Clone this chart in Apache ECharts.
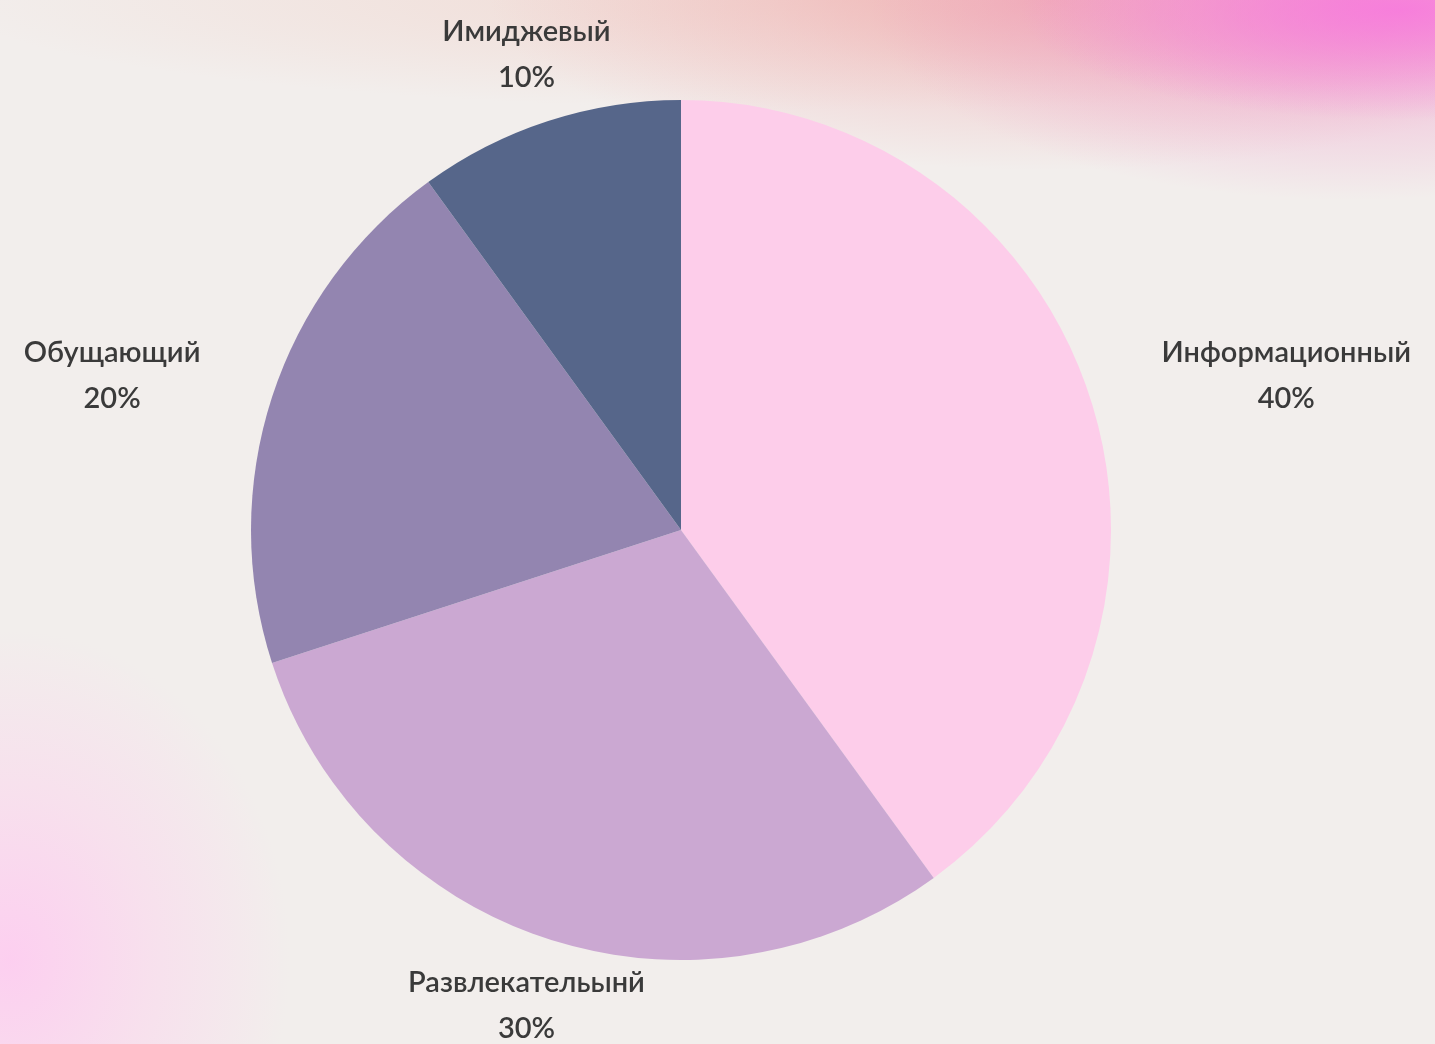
<!DOCTYPE html>
<html>
<head>
<meta charset="utf-8">
<script src="https://cdn.jsdelivr.net/npm/echarts@6/dist/echarts.min.js"></script>
<style>
html,body{margin:0;padding:0;width:1435px;height:1044px;overflow:hidden;}
body{
  background-color:#f2eeec;
  background-image:
    radial-gradient(ellipse 380px 110px at 1400px 10px, rgba(248,120,222,0.85) 0%, rgba(248,120,222,0.4) 50%, rgba(248,120,222,0) 100%),
    radial-gradient(ellipse 480px 200px at 1350px 0px, rgba(240,140,200,0.75) 0%, rgba(240,150,200,0.35) 55%, rgba(240,150,200,0) 100%),
    radial-gradient(ellipse 560px 170px at 1050px 0px, rgba(240,165,170,0.75) 0%, rgba(240,170,175,0.35) 50%, rgba(240,170,175,0) 100%),
    radial-gradient(ellipse 900px 110px at 850px 0px, rgba(240,200,190,0.55) 0%, rgba(240,200,190,0) 100%),
    radial-gradient(ellipse 280px 330px at 10px 960px, rgba(253,205,240,0.95) 0%, rgba(253,210,238,0.5) 50%, rgba(253,210,238,0) 100%);
}
#chart{width:1435px;height:1044px;}
</style>
</head>
<body>
<div id="chart"></div>
<script>
var categories = ['Информационный', 'Развлекательынй', 'Обущающий', 'Имиджевый'];
var values = [40, 30, 20, 10];
var colors = ['#fdcdea', '#cba8d2', '#9385b0', '#56668a'];

var chart = echarts.init(document.getElementById('chart'), null, {renderer: 'canvas'});
var data = categories.map(function (c, i) {
  return { name: c, value: values[i], itemStyle: { color: colors[i] } };
});

chart.setOption({
  backgroundColor: 'transparent',
  animation: false,
  series: [{
    type: 'pie',
    center: [681, 530],
    radius: 430,
    startAngle: 90,
    clockwise: true,
    avoidLabelOverlap: false,
    data: data,
    itemStyle: { borderWidth: 0 },
    label: {
      show: true,
      position: 'outside',
      formatter: '{b}\n{c}%',
      fontFamily: 'Lato',
      fontSize: 29,
      fontWeight: 600,
      lineHeight: 46,
      color: '#3a3a3a'
    },
    labelLine: {
      show: true,
      length: 70,
      length2: 0,
      lineStyle: { opacity: 0, width: 0 }
    },
    emphasis: { disabled: true },
    labelLayout: function (p) {
      var pts = p.labelLinePoints;
      var r = p.labelRect;
      if (!pts) {
        return { x: r.x + r.width / 2, y: r.y + r.height / 2, align: 'center', verticalAlign: 'middle' };
      }
      var dx = pts[1][0] - pts[0][0], dy = pts[1][1] - pts[0][1];
      if (Math.abs(dy) > Math.abs(dx)) {
        return { x: pts[1][0], y: pts[1][1], align: 'center', verticalAlign: 'middle' };
      }
      return { x: r.x + r.width / 2, y: r.y + r.height / 2, align: 'center', verticalAlign: 'middle' };
    }
  }]
});
</script>
</body>
</html>
